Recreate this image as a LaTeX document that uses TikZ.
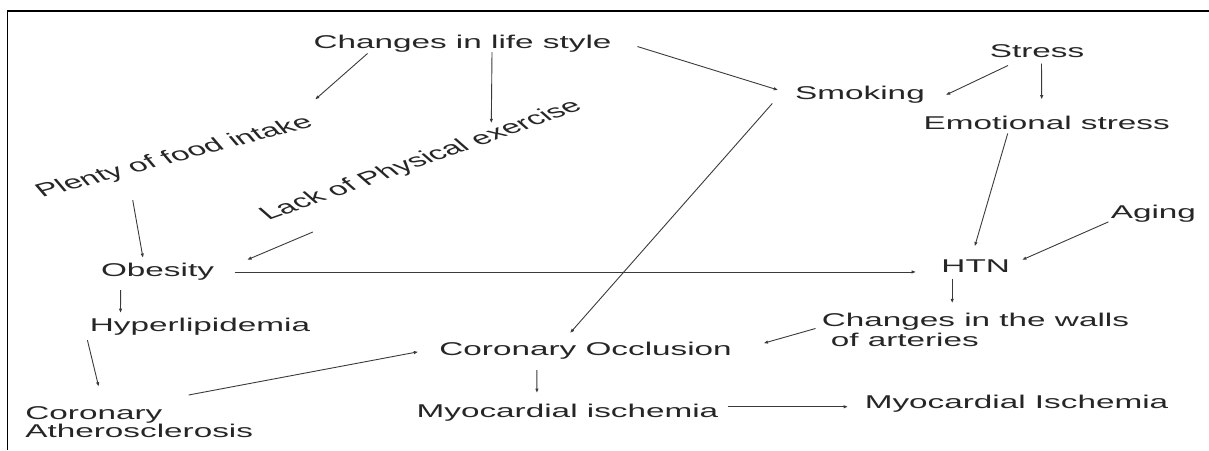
\documentclass[tikz,border=0pt]{standalone}
\usepackage{fontspec}
\setmainfont{Liberation Sans}
\usetikzlibrary{positioning,calc,arrows.meta}
\definecolor{ink}{HTML}{262626}
\definecolor{wire}{HTML}{3A3A3A}

\tikzset{
  lbl/.style={font=\fontsize{18.5}{22}\selectfont, text=ink, xscale=1.8,
    inner sep=2pt, text height=13.5pt, text depth=4pt, anchor=base},
  lbltwo/.style={font=\fontsize{18.5}{#1}\selectfont, text=ink, xscale=1.8,
    inner sep=2pt, align=left, anchor=north west},
  arr/.style={draw=wire, line width=0.9pt, -{Latex[length=4.5pt,width=3.5pt]}}
}

\begin{document}
\begin{tikzpicture}[x=1pt,y=-1pt]
			\useasboundingbox (0,0) rectangle (1209,450);
			\draw[line width=1.3pt] (7.3,450) -- (7.3,11) -- (1209,11);

			% causes
			\node[lbl] (life) at (462.5,48.3) {Changes in life style};
			\node[lbl] (smoke) at (860,99.3) {Smoking};
			\node[lbl] (stress) at (1037,57.3) {Stress};
			\node[lbl] (emo) at (1046.7,129.3) {Emotional stress};
			\node[lbl] (aging) at (1153.4,218.3) {Aging};
			\node[lbl, rotate=25.4] (plenty) at (178.3,161.7) {Plenty of food intake};
			\node[lbl, rotate=32.5] (lack) at (426,165) {Lack of Physical exercise};

			% effects
			\node[lbl] (obes) at (157.5,276.7) {Obesity};
			\node[lbl] (hyper) at (200,331.7) {Hyperlipidemia};
			\node[lbltwo=18.3] (ath) at (21.4,404.5) {Coronary\\Atherosclerosis};
			\node[lbl] (htn) at (975.7,272.7) {HTN};
			\node[lbltwo=20] (walls) at (817.8,311.2) {Changes in the walls\\\hspace*{5pt}of arteries};
			\node[lbl] (occl) at (585.6,355) {Coronary Occlusion};
			\node[lbl] (mi) at (567.5,417.3) {Myocardial ischemia};
			\node[lbl] (isch) at (1016.5,408.3) {Myocardial Ischemia};

			\begin{scope}[arr]
			\draw ($(life.south)+(-95,-1)$) -- ($(plenty.north east)+(9,-11)$);
			\draw ($(life.south)+(29.5,-2.5)$) -- ($(lack.north west)!0.75!(lack.north east)$);
			\draw ($(life.east)+(22,3)$) -- ($(smoke.west)+(-13,-4.5)$);
			\draw ($(stress.south)+(-29,2)$) -- ($(smoke.east)+(17,0.5)$);
			\draw ($(stress.south)+(4.5,0)$) -- ($(emo.north)+(-5,-14)$);
			\draw ($(emo.south)+(-39,-2)$) -- ($(htn.north)+(-1,-10.5)$);
			\draw ($(aging.south west)+(1.5,-2.6)$) -- ($(htn.east)+(8,-8)$);
			\draw ($(smoke.south west)+(-19,-2)$) -- ($(occl.north)+(-15.6,-6.2)$);
			\draw ($(obes.east)+(16.7,0)$) -- ($(obes.east -| htn.west)+(-21.4,0)$);
			\draw ($(plenty.south west)!0.32!(plenty.south east)+(0,19.6)$) -- ($(obes.north)+(-14.5,-3)$);
			\draw ($(lack.south west)!0.13!(lack.south east)+(0,19.6)$) -- ($(obes.north east)+(29.2,-1.2)$);
			\draw ($(obes.south west)+(23.5,7.3)$) -- ($(hyper.north west)+(34.6,-2.9)$);
			\draw ($(hyper.south west)+(1.5,2.3)$) -- ($(ath.north west)+(77.3,-17.8)$);
			\draw ($(ath.north west)+(167.2,-9.5)$) -- ($(occl.west)+(-17.1,1.5)$);
			\draw ($(occl.south)+(-48.7,9)$) -- ($(mi.north)+(-30.6,-8.5)$);
			\draw ($(htn.south)+(-23.5,-0.4)$) -- ($(walls.north west)+(134.4,-7.9)$);
			\draw ($(walls.west)+(-2.3,-1.7)$) -- ($(occl.east)+(27.7,-7)$);
			\draw ($(mi.east)+(5.4,-5.8)$) -- ($(mi.east -| isch.west)+(-12.7,-5.8)$);
			\end{scope}
\end{tikzpicture}
\end{document}
